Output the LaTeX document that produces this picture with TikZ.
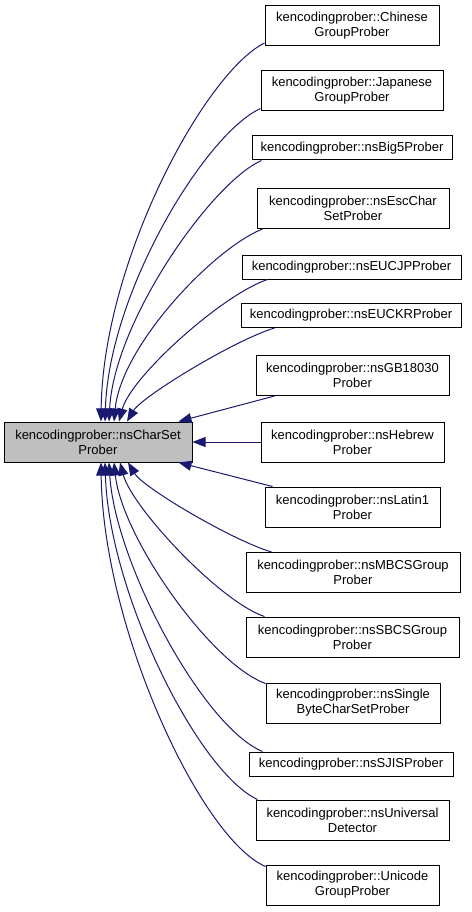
\documentclass[tikz,border=0pt]{standalone}
\usepackage{fontspec}
\setmainfont{Liberation Sans}
\usepackage{tikz}
\usetikzlibrary{arrows.meta, calc}
\definecolor{edgeblue}{RGB}{25,25,112}
\definecolor{basegray}{RGB}{191,191,191}
\tikzset{
    classbox/.style={rectangle, draw=black, line width=1pt, fill=white, align=center, inner xsep=4pt, inner ysep=0pt, minimum height=40pt, font=\fontsize{13}{15}\selectfont},
    onebox/.style={classbox, minimum height=24pt},
    basebox/.style={classbox, fill=basegray},
    inherit/.style={draw=edgeblue, line width=1pt, -{Triangle[length=13pt,width=10pt]}}
}
\begin{document}
\begin{tikzpicture}[x=1pt, y=-1pt]
        \useasboundingbox (0,0) rectangle (471,912);
        % Nodes
        \node (base) [basebox, minimum width=188pt] at (98,442) {kencodingprober::nsCharSet\\Prober};

        \node (chinese) [classbox, minimum width=174pt] at (352,25.5) {kencodingprober::Chinese\\GroupProber};
        \node (japanese) [classbox, minimum width=182pt] at (352,91) {kencodingprober::Japanese\\GroupProber};
        \node (big5) [onebox, minimum width=200pt] at (352,148) {kencodingprober::nsBig5Prober};
        \node (escchar) [classbox, minimum width=192pt] at (353,208.5) {kencodingprober::nsEscChar\\SetProber};
        \node (eucjp) [onebox, minimum width=219pt] at (351.5,267) {kencodingprober::nsEUCJPProber};
        \node (euckr) [onebox, minimum width=220pt] at (351,315.5) {kencodingprober::nsEUCKRProber};
        \node (gb18030) [classbox, minimum width=193pt] at (352.5,375.5) {kencodingprober::nsGB18030\\Prober};
        \node (hebrew) [classbox, minimum width=183pt] at (352.5,442) {kencodingprober::nsHebrew\\Prober};
        \node (latin1) [classbox, minimum width=175pt] at (352.5,507) {kencodingprober::nsLatin1\\Prober};
        \node (mbcs) [classbox, minimum width=214pt] at (353,572.5) {kencodingprober::nsMBCSGroup\\Prober};
        \node (sbcs) [classbox, minimum width=213pt] at (352.5,637) {kencodingprober::nsSBCSGroup\\Prober};
        \node (singlebyte) [classbox, minimum width=174pt] at (353,703) {kencodingprober::nsSingle\\ByteCharSetProber};
        \node (sjis) [onebox, minimum width=204pt] at (351,764) {kencodingprober::nsSJISProber};
        \node (universal) [classbox, minimum width=193pt] at (352.5,820) {kencodingprober::nsUniversal\\Detector};
        \node (unicode) [classbox, minimum width=173pt] at (352.5,885) {kencodingprober::Unicode\\GroupProber};

        % Connections (above the base)
        \draw [inherit] ([yshift=3pt]chinese.south west) .. controls +(-60,30) and +(2,-160) .. ([xshift=3pt]base.north);
        \draw [inherit] ([yshift=3pt]japanese.south west) .. controls +(-55,25) and +(4,-130) .. ([xshift=7pt]base.north);
        \draw [inherit] ([xshift=10pt]big5.south west) .. controls +(-50,22) and +(5,-100) .. ([xshift=11pt]base.north);
        \draw [inherit] ([xshift=6pt]escchar.south west) .. controls +(-50,20) and +(7,-75) .. ([xshift=16pt]base.north);
        \draw [inherit] ([xshift=26pt]eucjp.south west) .. controls +(-45,15) and +(12,-45) .. ([xshift=21pt]base.north);
        \draw [inherit] ([xshift=34pt]euckr.south west) .. controls +(-40,12) and +(15,-25) .. ([xshift=29pt]base.north);
        \draw [inherit] ([xshift=19pt]gb18030.south west) -- ([xshift=-14pt]base.north east);
        \draw [inherit] (hebrew.west) -- (base.east);

        % Connections (below the base)
        \draw [inherit] ([xshift=8pt]latin1.north west) -- ([xshift=-14pt]base.south east);
        \draw [inherit] ([xshift=26pt]mbcs.north west) .. controls +(-40,-12) and +(15,25) .. ([xshift=30pt]base.south);
        \draw [inherit] ([xshift=19pt]sbcs.north west) .. controls +(-45,-15) and +(12,45) .. ([xshift=22pt]base.south);
        \draw [inherit] ([yshift=-1pt]singlebyte.north west) .. controls +(-55,-20) and +(8,75) .. ([xshift=16pt]base.south);
        \draw [inherit] ([xshift=14pt]sjis.north west) .. controls +(-60,-25) and +(6,100) .. ([xshift=11pt]base.south);
        \draw [inherit] ([xshift=2pt]universal.north west) .. controls +(-60,-28) and +(4,130) .. ([xshift=7pt]base.south);
        \draw [inherit] ([yshift=-2pt]unicode.north west) .. controls +(-65,-28) and +(2,165) .. ([xshift=3pt]base.south);
    \end{tikzpicture}
\end{document}
